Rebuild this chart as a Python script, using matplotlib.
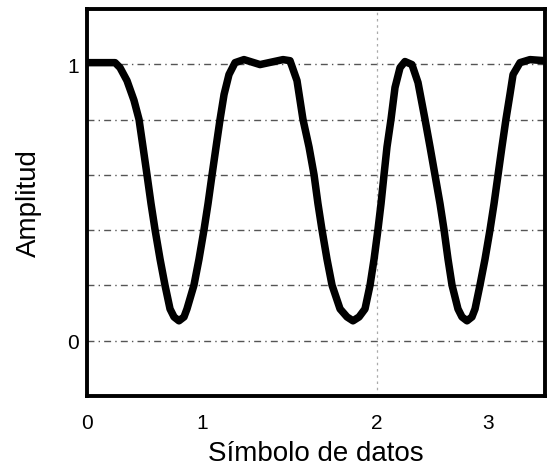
import matplotlib
matplotlib.use("Agg")
import matplotlib.pyplot as plt

plt.rcParams['font.family'] = ['Liberation Sans', 'DejaVu Sans']

# Curve (x in axis units, amplitude)
x_vals = [0.000, 0.114, 0.245, 0.288, 0.349, 0.410, 0.454, 0.489, 0.524, 0.559,
          0.594, 0.638, 0.681, 0.725, 0.760, 0.803, 0.847, 0.873, 0.934, 0.978,
          1.022, 1.057, 1.092, 1.127, 1.162, 1.197, 1.240, 1.293, 1.371, 1.511,
          1.712, 1.773, 1.834, 1.886, 1.939, 1.983, 2.017, 2.052, 2.096, 2.140,
          2.210, 2.271, 2.323, 2.376, 2.428, 2.472, 2.507, 2.541, 2.568, 2.594,
          2.620, 2.655, 2.690, 2.734, 2.777, 2.838, 2.891, 2.952, 2.996, 3.039,
          3.083, 3.118, 3.153, 3.188, 3.240, 3.275, 3.319, 3.362, 3.389, 3.432,
          3.476, 3.520, 3.555, 3.590, 3.624, 3.659, 3.694, 3.721, 3.782, 3.869,
          4.000]
y_vals = [1.006, 1.006, 1.006, 0.988, 0.941, 0.870, 0.801, 0.701, 0.600, 0.496,
          0.402, 0.295, 0.201, 0.115, 0.086, 0.072, 0.086, 0.115, 0.201, 0.295,
          0.402, 0.496, 0.600, 0.701, 0.801, 0.891, 0.963, 1.006, 1.017, 0.999,
          1.017, 1.013, 0.941, 0.801, 0.701, 0.600, 0.496, 0.402, 0.295, 0.201,
          0.115, 0.086, 0.072, 0.086, 0.115, 0.201, 0.295, 0.402, 0.496, 0.600,
          0.701, 0.801, 0.916, 0.988, 1.010, 0.999, 0.934, 0.801, 0.701, 0.600,
          0.496, 0.402, 0.295, 0.201, 0.115, 0.086, 0.072, 0.086, 0.115, 0.201,
          0.295, 0.402, 0.496, 0.600, 0.701, 0.801, 0.891, 0.963, 1.006, 1.017,
          1.013]

x_tick_pos = [0.0, 1.01, 2.53, 3.50]
x_tick_labels = ['0', '1', '2', '3']
y_tick_pos = [0.0, 0.2, 0.4, 0.6, 0.8, 1.0]
y_tick_labels = ['0', '', '', '', '', '1']

fig = plt.figure(figsize=(5.49, 4.77), dpi=100)
ax = fig.add_axes([0.1585, 0.1677, 0.8342, 0.8113])

# horizontal grid lines
for yv in y_tick_pos:
    ax.axhline(yv, color='#555555', lw=1.0, linestyle=(0, (5, 3, 1, 3)), zorder=1)
# faint vertical grid line at tick "2"
ax.axvline(x_tick_pos[2], color='#aaaaaa', lw=0.9, linestyle=(0, (2, 3)), zorder=1)

ax.plot(x_vals, y_vals, color='black', lw=5.4, solid_joinstyle='round',
        solid_capstyle='round', zorder=3)

ax.set_xlim(0, 4)
ax.set_ylim(-0.2, 1.2)
ax.set_xticks(x_tick_pos)
ax.set_xticklabels(x_tick_labels)
ax.set_yticks(y_tick_pos)
ax.set_yticklabels(y_tick_labels)
ax.tick_params(axis='x', length=0, pad=12, labelsize=15)
ax.tick_params(axis='y', length=0, pad=6, labelsize=15)

for s in ax.spines.values():
    s.set_linewidth(2.8)
    s.set_color('black')

ax.set_xlabel('Símbolo de datos', fontsize=20, labelpad=6)
ax.set_ylabel('Amplitud', fontsize=20, labelpad=18)

fig.savefig('out.png', dpi=100)
